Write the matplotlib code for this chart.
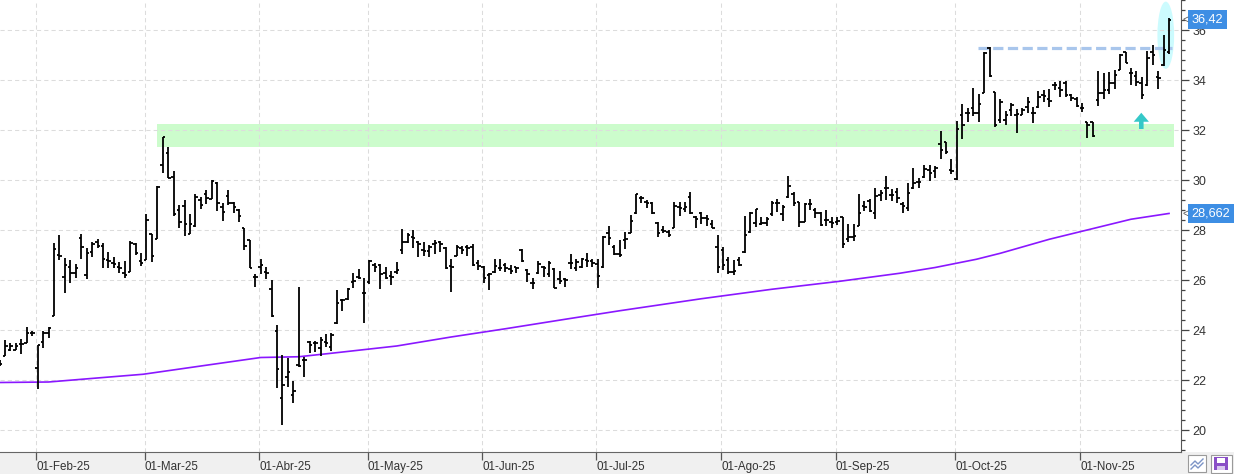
import numpy as np
import pandas as pd
import matplotlib
matplotlib.use('Agg')
import matplotlib.pyplot as plt
import matplotlib.transforms as mtransforms
from matplotlib.patches import Rectangle, Ellipse, Polygon
from matplotlib.ticker import MultipleLocator, FormatStrFormatter

plt.rcParams['font.family'] = ['Liberation Sans', 'DejaVu Sans']

# trading days (BME holidays removed)
holidays = ['2025-04-18', '2025-04-21', '2025-05-01']
dates = pd.bdate_range('2025-01-23', '2025-11-25')
dates = dates[~dates.isin(pd.to_datetime(holidays))]
meses = ['Ene', 'Feb', 'Mar', 'Abr', 'May', 'Jun', 'Jul', 'Ago', 'Sep', 'Oct', 'Nov', 'Dic']

opens = [22.65, 22.96, 23.2, 23.2, 23.45, 23.5, 23.9, 22.5, 23.53, 23.87,
         24.56, 27.0, 26.13, 26.53, 26.27, 27.67, 26.2, 27.11, 27.53, 27.37,
         26.8, 26.67, 26.53, 26.27, 26.33, 27.44, 26.77, 26.8, 27.83, 27.63,
         30.6, 31.1, 30.13, 28.8, 28.96, 27.83, 28.16, 29.2, 29.44, 29.24,
         29.87, 28.93, 29.36, 29.09, 28.8, 28.07, 27.6, 26.11, 26.53, 26.33,
         25.63, 23.97, 21.27, 22.11, 21.4, 22.6, 22.8, 23.53, 23.47, 23.27,
         23.53, 23.33, 24.27, 25.2, 25.23, 25.93, 26.13, 25.49, 25.93, 26.6,
         26.6, 26.27, 26.16, 26.33, 27.2, 27.53, 27.73, 27.53, 27.2, 27.17,
         27.44, 27.53, 27.29, 26.56, 26.96, 27.27, 27.33, 27.33, 26.69, 26.51,
         26.2, 26.33, 26.47, 26.6, 26.43, 26.51, 27.2, 26.4, 25.87, 26.27,
         26.51, 26.24, 26.43, 26.03, 26.03, 26.69, 26.47, 26.51, 26.8, 26.77,
         26.63, 26.51, 27.89, 27.31, 27.03, 27.6, 27.89, 28.67, 29.27, 29.13,
         29.09, 28.27, 28.0, 27.93, 28.09, 28.91, 28.83, 29.33, 28.51, 28.67,
         28.47, 28.23, 27.31, 27.2, 26.8, 26.33, 26.8, 27.13, 27.93, 28.27,
         28.23, 28.27, 28.63, 29.09, 28.63, 29.31, 29.43, 29.13, 28.33, 29.03,
         28.8, 28.67, 28.4, 28.33, 28.33, 28.51, 27.63, 27.71, 28.16, 28.97,
         29.16, 28.67, 29.4, 29.69, 29.4, 29.53, 29.03, 28.87, 29.67, 29.93,
         30.11, 30.4, 30.36, 31.43, 31.51, 30.4, 30.03, 32.6, 32.69, 32.9,
         32.67, 33.49, 35.27, 33.53, 32.4, 32.4, 32.8, 32.6, 32.6, 32.93,
         32.69, 32.93, 33.4, 33.23, 33.8, 33.67, 33.87, 33.4, 33.23, 32.87,
         32.33, 32.31, 33.2, 33.5, 33.6, 33.87, 34.4, 35.13, 34.29, 34.16,
         33.89, 33.8, 35.13, 34.13, 34.6, 35.13]

highs = [22.8, 23.6, 23.49, 23.5, 23.63, 24.13, 23.96, 23.4, 23.96, 24.13,
         27.47, 27.8, 26.87, 26.8, 26.64, 27.84, 27.29, 27.53, 27.63, 27.5,
         27.13, 26.93, 26.73, 26.76, 27.57, 27.49, 27.1, 28.63, 27.83, 29.76,
         31.71, 31.33, 30.36, 29.0, 29.2, 28.63, 29.44, 29.33, 29.6, 30.0,
         29.92, 29.07, 29.6, 29.13, 28.83, 28.07, 27.6, 26.24, 26.83, 26.53,
         26.0, 24.2, 23.0, 22.87, 21.97, 25.71, 22.93, 23.57, 23.57, 23.71,
         23.84, 23.87, 25.6, 25.24, 25.69, 26.27, 26.44, 26.07, 26.8, 26.67,
         26.63, 26.51, 26.36, 26.73, 28.03, 27.87, 28.0, 27.56, 27.53, 27.4,
         27.6, 27.57, 27.33, 26.83, 27.4, 27.36, 27.4, 27.43, 26.8, 26.56,
         26.29, 26.83, 26.83, 26.69, 26.6, 26.51, 27.23, 26.43, 26.09, 26.76,
         26.56, 26.76, 26.47, 26.37, 26.07, 27.04, 26.83, 26.87, 27.09, 26.84,
         26.85, 27.76, 28.16, 27.4, 27.6, 27.93, 28.6, 29.44, 29.36, 29.2,
         29.13, 28.33, 28.16, 28.0, 29.11, 29.13, 29.13, 29.51, 28.56, 28.73,
         28.6, 28.4, 27.8, 27.31, 26.93, 26.8, 26.93, 28.57, 28.71, 28.84,
         28.53, 28.51, 29.16, 29.24, 29.0, 30.17, 29.51, 29.13, 29.07, 29.24,
         28.89, 28.71, 28.8, 28.53, 28.51, 28.53, 28.24, 28.23, 29.44, 29.16,
         29.23, 29.69, 29.6, 30.16, 29.64, 29.69, 29.13, 29.87, 30.47, 30.07,
         30.6, 30.6, 30.56, 31.96, 31.53, 30.84, 32.36, 33.03, 32.89, 33.69,
         33.43, 35.11, 35.33, 33.53, 33.25, 32.76, 33.07, 32.83, 32.87, 33.31,
         32.93, 33.57, 33.6, 33.63, 33.93, 33.97, 33.97, 33.44, 33.31, 33.07,
         32.33, 32.31, 34.36, 34.27, 34.31, 34.4, 35.04, 35.13, 34.47, 34.37,
         34.13, 35.16, 35.4, 34.37, 35.8, 36.5]

lows = [22.55, 22.96, 23.16, 23.2, 23.03, 23.5, 23.76, 21.63, 23.3, 23.67,
        24.56, 26.8, 25.47, 25.87, 26.07, 26.83, 26.03, 26.91, 27.27, 26.47,
        26.47, 26.47, 26.27, 26.07, 26.33, 27.0, 26.57, 26.8, 26.73, 27.63,
        30.29, 30.07, 28.57, 28.07, 27.77, 27.83, 28.11, 28.83, 29.04, 29.24,
        28.77, 28.37, 29.0, 28.69, 28.33, 27.2, 26.47, 25.71, 26.24, 26.04,
        24.53, 21.67, 20.2, 21.73, 21.07, 22.51, 22.13, 23.09, 23.13, 22.96,
        23.33, 23.17, 24.24, 24.77, 25.2, 25.69, 26.03, 24.29, 25.83, 26.33,
        25.63, 26.03, 25.79, 26.23, 27.04, 27.47, 27.29, 26.91, 26.96, 26.91,
        27.04, 27.13, 26.43, 25.53, 26.96, 27.04, 26.96, 26.56, 26.4, 25.87,
        25.6, 26.29, 26.37, 26.33, 26.23, 26.29, 26.73, 25.93, 25.63, 26.24,
        26.11, 26.13, 25.67, 25.83, 25.71, 26.43, 26.37, 26.47, 26.53, 26.51,
        25.7, 26.47, 27.4, 27.0, 26.91, 27.23, 27.87, 28.64, 29.07, 28.87,
        28.64, 27.71, 27.87, 27.71, 28.07, 28.56, 28.71, 28.64, 28.09, 28.23,
        28.16, 28.07, 26.29, 26.4, 26.23, 26.2, 26.56, 27.09, 27.89, 28.11,
        28.2, 28.16, 28.56, 28.73, 28.37, 29.27, 28.97, 28.13, 28.33, 28.8,
        28.47, 28.16, 28.17, 28.09, 28.2, 27.27, 27.53, 27.57, 28.16, 28.77,
        28.73, 28.43, 29.16, 29.2, 29.17, 29.09, 28.67, 28.77, 29.64, 29.67,
        30.07, 29.96, 30.09, 30.83, 31.03, 30.24, 30.0, 31.63, 32.33, 32.56,
        32.33, 33.49, 34.11, 32.11, 32.27, 32.2, 32.57, 31.89, 32.6, 32.69,
        32.29, 32.87, 33.13, 32.91, 33.6, 33.33, 33.33, 33.17, 32.93, 32.73,
        31.67, 31.73, 32.97, 33.23, 33.44, 33.63, 34.4, 34.67, 33.8, 33.76,
        33.23, 33.77, 34.6, 33.63, 34.57, 35.04]

closes = [22.65, 23.36, 23.36, 23.36, 23.45, 23.9, 23.9, 23.4, 23.87, 24.07,
          27.23, 26.96, 26.6, 26.27, 26.49, 27.33, 27.07, 27.44, 27.37, 26.83,
          26.76, 26.63, 26.49, 26.2, 27.49, 27.07, 26.69, 28.4, 26.96, 29.73,
          31.71, 30.07, 28.63, 28.33, 28.24, 28.23, 29.31, 29.0, 29.27, 29.96,
          29.07, 28.73, 29.07, 28.91, 28.56, 27.37, 26.47, 26.13, 26.6, 26.27,
          24.56, 22.43, 21.8, 22.31, 21.57, 22.55, 22.8, 23.4, 23.49, 23.6,
          23.49, 23.8, 25.07, 25.2, 25.63, 25.97, 26.09, 25.47, 26.77, 26.53,
          26.23, 26.07, 26.13, 26.4, 27.53, 27.8, 27.67, 27.45, 27.17, 27.33,
          27.49, 27.44, 26.47, 26.53, 27.33, 27.2, 27.27, 26.6, 26.56, 26.07,
          26.25, 26.56, 26.47, 26.47, 26.37, 26.47, 26.76, 26.24, 25.87, 26.64,
          26.47, 26.69, 25.69, 25.97, 26.0, 26.67, 26.73, 26.83, 26.76, 26.69,
          26.16, 27.73, 27.67, 27.04, 27.0, 27.63, 28.37, 29.43, 29.27, 29.09,
          28.67, 27.89, 27.97, 27.8, 28.96, 28.89, 28.93, 28.69, 28.43, 28.47,
          28.43, 28.07, 26.53, 26.6, 26.32, 26.36, 26.6, 27.8, 28.67, 28.83,
          28.29, 28.43, 29.07, 29.07, 28.93, 29.75, 29.09, 28.31, 29.04, 29.03,
          28.69, 28.2, 28.4, 28.29, 28.37, 27.44, 27.71, 27.76, 28.67, 28.93,
          28.76, 29.37, 29.49, 29.67, 29.4, 29.29, 28.97, 29.47, 29.87, 29.93,
          30.43, 30.27, 30.47, 31.2, 31.13, 30.37, 32.03, 32.2, 32.69, 32.67,
          33.04, 35.09, 34.16, 32.2, 33.13, 32.6, 33.0, 32.63, 32.8, 33.13,
          32.67, 33.33, 33.36, 33.16, 33.8, 33.6, 33.4, 33.27, 32.96, 32.87,
          32.2, 31.76, 33.47, 33.6, 33.9, 34.2, 35.0, 34.69, 34.29, 33.93,
          33.4, 34.87, 35.0, 34.1, 35.2, 36.42]

# moving average (bar position, value)
ma_pos = [0, 9, 18.5, 26.4, 37, 48, 55, 61, 73, 83, 93, 104, 114, 129, 142,
          154.5, 165.5, 172, 179.6, 184, 193, 208, 215]
ma_val = [21.9, 21.92, 22.09, 22.23, 22.56, 22.9, 22.93, 23.07, 23.36, 23.72,
          24.05, 24.43, 24.77, 25.25, 25.63, 25.95, 26.27, 26.5, 26.83, 27.07,
          27.63, 28.43, 28.662]

# drawn annotations
zone_low, zone_high = 31.31, 32.24
zone_start, zone_end = 28.9, 215.9
resist_level = 35.29
resist_start, resist_end = 179.8, 215.6
oval_center, oval_w, oval_h = (214.4, 35.79), 3.07, 2.69
arrow_x, arrow_tip, arrow_base = 209.9, 32.69, 32.04

W, H = 1234, 474
fig = plt.figure(figsize=(W / 100, H / 100), dpi=100)
fig.patch.set_facecolor('white')
ax = fig.add_axes([0, 22 / H, 1181 / W, 452 / H])

x = np.arange(len(opens))
ax.add_patch(Rectangle((zone_start, zone_low), zone_end - zone_start, zone_high - zone_low,
                       facecolor='#ccfccc', edgecolor='none', zorder=0.2))
ax.add_patch(Ellipse(oval_center, oval_w, oval_h, facecolor='#ccfbfe', edgecolor='none', zorder=0.2))

ax.plot(ma_pos, ma_val, color='#8a17ff', lw=1.2, zorder=2)
ax.hlines(resist_level, resist_start, resist_end, colors='#a9c6ec', lw=2.3,
          linestyles=(0, (3.2, 1.4)), zorder=2)

ax.vlines(x, lows, highs, colors='black', lw=1.3, zorder=3)
ax.hlines(opens, x - 0.45, x, colors='black', lw=1.3, zorder=3)
ax.hlines(closes, x, x + 0.45, colors='black', lw=1.3, zorder=3)

# up arrow
hw, sw = 1.4, 0.42
mid = arrow_tip - 0.36
ax.add_patch(Polygon([(arrow_x, arrow_tip), (arrow_x + hw, mid), (arrow_x + sw, mid),
                      (arrow_x + sw, arrow_base), (arrow_x - sw, arrow_base),
                      (arrow_x - sw, mid), (arrow_x - hw, mid)],
                     closed=True, facecolor='#35c8c8', edgecolor='none', zorder=4))

ax.set_xlim(0.07, 217.2)
ax.set_ylim(19.12, 37.2)

# month ticks
mpos, mlab = [], []
for i in range(1, len(dates)):
    if dates[i].month != dates[i - 1].month:
        mpos.append(i - 0.3)
        mlab.append('01-%s-%s' % (meses[dates[i].month - 1], dates[i].strftime('%y')))
ax.set_xticks(mpos)
ax.set_xticklabels(mlab, ha='left')
ax.tick_params(axis='x', length=6, width=0.9, color='#555555', labelsize=8.4,
               labelcolor='#333333', pad=0.3)

ax.yaxis.tick_right()
ax.yaxis.set_major_locator(MultipleLocator(2))
ax.yaxis.set_minor_locator(MultipleLocator(0.4))
ax.yaxis.set_major_formatter(FormatStrFormatter('%d'))
ax.tick_params(axis='y', which='major', length=6, width=0.9, color='#444444',
               labelsize=9, labelcolor='#333333', pad=2)
ax.tick_params(axis='y', which='minor', length=3, width=0.9, color='#444444')

ax.grid(True, which='major', color='#dcdcdc', linestyle=(0, (4, 3)), linewidth=0.75)
ax.set_axisbelow(True)
for s in ['left', 'top']:
    ax.spines[s].set_visible(False)
ax.spines['right'].set_color('#555555')
ax.spines['bottom'].set_color('#666666')

# last value labels
trans = mtransforms.blended_transform_factory(ax.transAxes, ax.transData)
for val, txt in [(closes[-1], '%.2f' % closes[-1]), (ma_val[-1], '%.3f' % ma_val[-1])]:
    ax.text(1.0092, val, txt.replace('.', ','), transform=trans, ha='left', va='center',
            color='white', fontsize=9.2, clip_on=False, zorder=10,
            bbox=dict(boxstyle='square,pad=0.3', facecolor='#3d8ee4', edgecolor='none'))
    ax.text(1.0015, val, '<', transform=trans, ha='left', va='center', color='#555555',
            fontsize=7, clip_on=False, zorder=10)

# bottom band and buttons
fig.add_artist(Rectangle((0, 0), 1, 22 / H, transform=fig.transFigure,
                         facecolor='#f0f0f0', edgecolor='none', zorder=-1))


def px(x0, y0):
    return (x0 / W, 1 - y0 / H)


fig.add_artist(Rectangle(px(1188, 472), 18 / W, 17 / H, transform=fig.transFigure,
                         facecolor='white', edgecolor='#9a9a9a', lw=0.8, zorder=5))
fig.add_artist(Rectangle(px(1211, 473), 21 / W, 18 / H, transform=fig.transFigure,
                         facecolor='white', edgecolor='#9a9a9a', lw=0.8, zorder=5))
for dy in (0, 4):
    zz = [px(1191, 465 + dy), px(1195, 461 + dy), px(1198, 464 + dy), px(1203, 459 + dy)]
    fig.add_artist(plt.Line2D([p[0] for p in zz], [p[1] for p in zz], transform=fig.transFigure,
                              color='#7b93c6', lw=1.0, zorder=6))
fig.add_artist(Rectangle(px(1214, 470), 14 / W, 13 / H, transform=fig.transFigure,
                         facecolor='#8a4fc7', edgecolor='none', zorder=6))
fig.add_artist(Rectangle(px(1217, 463), 8 / W, 5 / H, transform=fig.transFigure,
                         facecolor='white', edgecolor='none', zorder=7))
fig.add_artist(Rectangle(px(1217, 470), 8 / W, 4 / H, transform=fig.transFigure,
                         facecolor='#d9c8ef', edgecolor='none', zorder=7))

fig.savefig('out.png', dpi=100)
